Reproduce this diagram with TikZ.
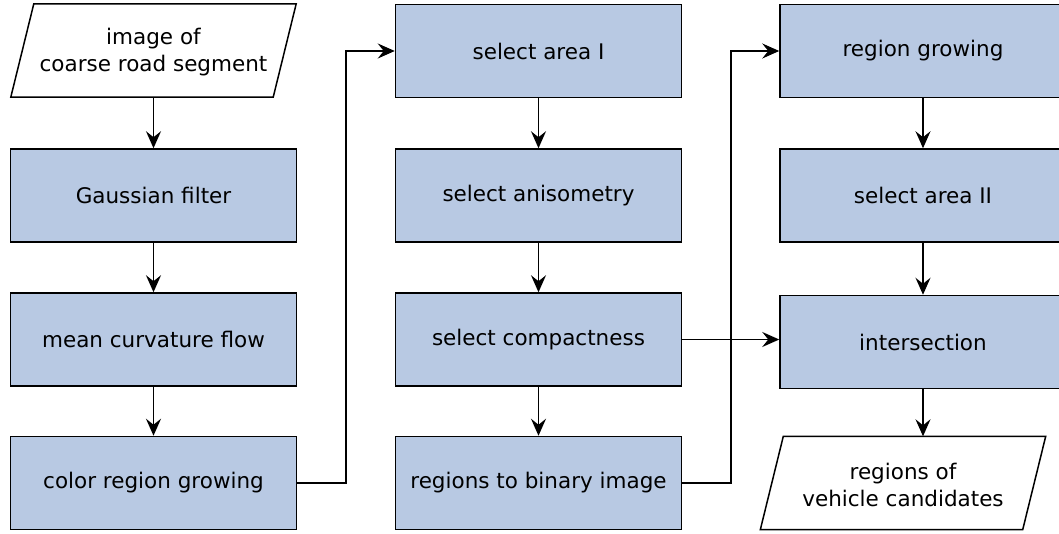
\documentclass[tikz,border=0pt]{standalone}
\usepackage{fontspec}
\setmainfont{DejaVu Sans}
\usepackage{tikz}
\usetikzlibrary{arrows.meta,positioning}
\definecolor{boxblue}{RGB}{184,201,227}

\tikzset{
  stepbox/.style={rectangle, draw, fill=boxblue, line width=1.5pt,
    minimum width=286pt, minimum height=93pt, inner sep=0pt},
  iotext/.style={rectangle, minimum width=285pt, minimum height=93pt,
    inner sep=0pt, align=center},
  flow/.style={-{Stealth[length=17pt,width=15pt,inset=6pt]}, line width=1.5pt}
}
% parallelogram round a named text node
\newcommand{\slantbox}[1]{%
  \draw[line width=1.5pt, fill=white] ([xshift=23pt]#1.north west) -- (#1.north east)
    -- ([xshift=-23pt]#1.south east) -- (#1.south west) -- cycle;}

\begin{document}
\begin{tikzpicture}[x=1pt,y=-1pt,font=\fontsize{21.5}{27}\selectfont]
      \useasboundingbox (0,0) rectangle (1059,534);
      \node[iotext] at (153.5,50.5) (input) {};
      \slantbox{input}
      \node[align=center] at (153.5,52.5) (inputtext) {image of\\coarse road segment};
      \node[stepbox] at (153.5,195.5) (gauss) {Gaussian filter};
      \node[stepbox] at (153.5,339.5) (mcf) {mean curvature flow};
      \node[stepbox] at (153.5,483) (crg) {color region growing};
      \node[stepbox] at (538.5,51) (areaone) {select area I};
      \node[stepbox] at (538.5,195.5) (aniso) {select anisometry};
      \node[stepbox] at (538.5,339.5) (compact) {select compactness};
      \node[stepbox] at (538.5,483) (binary) {regions to binary image};
      \node[stepbox] at (923,51) (rg) {region growing};
      \node[stepbox] at (923,195.5) (areatwo) {select area II};
      \node[stepbox] at (923,342) (inter) {intersection};
      \node[iotext] at (903,483) (output) {};
      \slantbox{output}
      \node[align=center] at (903,484.5) (outputtext) {regions of\\vehicle candidates};
      \coordinate (jumpone) at (346,0);
      \coordinate (jumptwo) at (731,0);
      \draw[flow] (input) -- (gauss);
      \draw[flow] (gauss) -- (mcf);
      \draw[flow] (mcf) -- (crg);
      \draw[flow] (crg.east) -| (jumpone |- crg.east) |- (areaone.west);
      \draw[flow] (areaone) -- (aniso);
      \draw[flow] (aniso) -- (compact);
      \draw[flow] (compact) -- (binary);
      \draw[flow] (binary.east) -| (jumptwo |- binary.east) |- (rg.west);
      \draw[flow] (compact.east) -- (compact.east -| inter.west);
      \draw[flow] (rg) -- (areatwo);
      \draw[flow] (areatwo) -- (inter);
      \draw[flow] (inter.south) -- (inter.south |- output.north);
\end{tikzpicture}
\end{document}
